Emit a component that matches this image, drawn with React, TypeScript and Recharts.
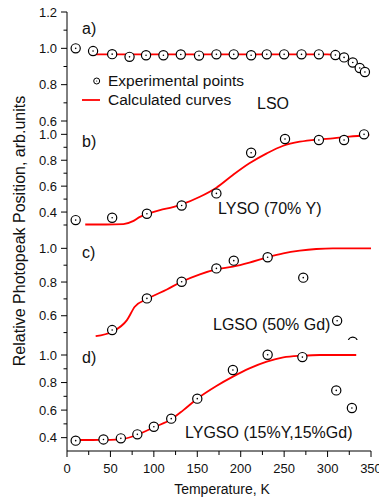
import React from "react";
import { ComposedChart, Line, Scatter, XAxis, YAxis, Legend, Label } from "recharts";

const FONT = '"Liberation Sans", Arial, Helvetica, sans-serif';
const INK = "#111";
const RED = "#ff0000";

// temperature axis, K
const X_TICKS = [0, 25, 50, 75, 100, 125, 150, 175, 200, 225, 250, 275, 300, 325, 350];

// a) LSO
const lsoT = [10, 30, 52, 72, 91, 111, 131, 152, 172, 192, 212, 230, 250, 270, 290, 309, 319, 329, 337, 343];
const lsoV = [1.0, 0.985, 0.968, 0.953, 0.962, 0.962, 0.966, 0.96, 0.967, 0.967, 0.962, 0.967, 0.967, 0.967, 0.967, 0.963, 0.95, 0.922, 0.892, 0.87];
const lsoFitT = [27, 100, 200, 300, 309, 319, 329, 337, 343];
const lsoFitV = [0.967, 0.967, 0.967, 0.967, 0.963, 0.95, 0.922, 0.892, 0.87];

// b) LYSO (70% Y)
const lysoT = [10, 52, 92, 132, 172, 212, 251, 290, 319, 342];
const lysoV = [0.338, 0.356, 0.387, 0.451, 0.544, 0.858, 0.964, 0.956, 0.956, 1.0];
const lysoFitT = [21, 45, 65, 76, 84, 92, 107, 122, 132, 153, 172, 191, 210, 230, 249, 268, 290, 306, 325, 348];
const lysoFitV = [0.304, 0.304, 0.307, 0.33, 0.363, 0.384, 0.415, 0.438, 0.459, 0.518, 0.588, 0.686, 0.776, 0.853, 0.912, 0.943, 0.961, 0.969, 0.982, 0.995];

// c) LGSO (50% Gd)
const lgsoT = [52, 92, 132, 172, 192, 231, 272, 311, 329];
const lgsoV = [0.515, 0.703, 0.802, 0.881, 0.927, 0.947, 0.826, 0.57, 0.446];
const lgsoFitT = [33, 52, 69, 78, 92, 115, 132, 153, 172, 191, 210, 231, 249, 268, 287, 306, 350];
const lgsoFitV = [0.479, 0.505, 0.574, 0.653, 0.699, 0.756, 0.802, 0.846, 0.875, 0.891, 0.915, 0.947, 0.97, 0.986, 0.996, 1.0, 1.0];

// d) LYGSO (15%Y,15%Gd)
const lygsoT = [10, 42, 62, 81, 100, 120, 150, 191, 231, 271, 310, 328];
const lygsoV = [0.378, 0.387, 0.395, 0.424, 0.479, 0.538, 0.683, 0.891, 1.002, 0.985, 0.743, 0.615];
const lygsoFitT = [10, 30, 50, 62, 80, 100, 120, 134, 150, 172, 191, 210, 230, 249, 271, 291, 333];
const lygsoFitV = [0.383, 0.383, 0.384, 0.387, 0.419, 0.475, 0.533, 0.6, 0.683, 0.775, 0.843, 0.903, 0.952, 0.983, 0.995, 1.0, 1.0];

const Y_TICKS_A = [0.6, 0.7, 0.8, 0.9, 1.0, 1.1, 1.2];
const Y_TICKS_B = [0.3, 0.4, 0.5, 0.6, 0.7, 0.8, 0.9, 1.0];
const Y_TICKS_C = [0.5, 0.6, 0.7, 0.8, 0.9, 1.0];
const Y_TICKS_D = [0.4, 0.5, 0.6, 0.7, 0.8, 0.9, 1.0];

const zip = (t: number[], v: number[]) => t.map((x, i) => ({ t: x, v: v[i] }));

const majorY = (v: number) => Math.round(v * 10) % 2 === 0;
const majorX = (v: number) => v % 50 === 0;

function LeftTick(props: any) {
  const { x, y, payload } = props;
  const v = payload.value as number;
  const big = majorY(v);
  return (
    <g>
      <line x1={x - (big ? 6 : 3.5)} x2={x} y1={y} y2={y} stroke="#000" />
      {big && (
        <text x={x - 10} y={y + 4.6} textAnchor="end" fontSize={13} fontFamily={FONT} fill={INK}>
          {v.toFixed(1)}
        </text>
      )}
    </g>
  );
}

function RightTick(props: any) {
  const { x, y, payload } = props;
  const len = majorY(payload.value) ? 5 : 3;
  return <line x1={x - len} x2={x} y1={y} y2={y} stroke="#000" />;
}

function TopTick(props: any) {
  const { x, y, payload } = props;
  const len = majorX(payload.value) ? 5 : 3.5;
  return <line x1={x} x2={x} y1={y} y2={y + len} stroke="#000" />;
}

function BottomTick(props: any) {
  const { x, y, payload } = props;
  const v = payload.value as number;
  const big = majorX(v);
  return (
    <g>
      <line x1={x} x2={x} y1={y} y2={y + (big ? 6 : 4)} stroke="#000" />
      {big && (
        <text x={x} y={y + 22} textAnchor="middle" fontSize={13} fontFamily={FONT} fill={INK}>
          {v}
        </text>
      )}
    </g>
  );
}

function OpenCircle(props: any) {
  const { cx, cy } = props;
  if (cx == null || cy == null) return null;
  return (
    <g>
      <circle cx={cx} cy={cy} r={4.6} fill="#fff" stroke="#000" strokeWidth={1.2} />
      <circle cx={cx} cy={cy} r={0.8} fill="#000" />
    </g>
  );
}

function LegendBox(props: any) {
  const items = [...(props.payload || [])].sort((a: any, b: any) =>
    a.type === "line" ? 1 : b.type === "line" ? -1 : 0
  );
  return (
    <svg width={200} height={40} style={{ display: "block" }}>
      {items.map((it: any, i: number) => {
        const cy = 11 + i * 19;
        return (
          <g key={it.value}>
            {it.type === "line" ? (
              <line x1={4} x2={22} y1={cy} y2={cy} stroke={RED} strokeWidth={1.8} />
            ) : (
              <g>
                <circle cx={18.7} cy={cy} r={3} fill="#fff" stroke="#000" strokeWidth={1} />
                <circle cx={18.7} cy={cy} r={0.6} fill="#000" />
              </g>
            )}
            <text x={30} y={cy + 5} fontSize={15.5} fontFamily={FONT} fill={INK}>
              {it.value}
            </text>
          </g>
        );
      })}
    </svg>
  );
}

interface PanelProps {
  plotTop: number;
  plotH: number;
  domain: [number, number];
  yTicks: number[];
  pts: { t: number; v: number }[];
  fit: { t: number; v: number }[];
  last?: boolean;
  withLegend?: boolean;
}

function Panel({ plotTop, plotH, domain, yTicks, pts, fit, last, withLegend }: PanelProps) {
  const padTop = 12;
  const axisH = last ? 46 : 0;
  const padBottom = last ? 0 : 12;
  const height = padTop + plotH + axisH + padBottom;
  return (
    <div style={{ position: "absolute", left: 0, top: plotTop - padTop, width: 379, height }}>
      <ComposedChart width={379} height={height} margin={{ top: padTop, right: 8, bottom: padBottom, left: 0 }}>
        <XAxis
          dataKey="t"
          type="number"
          domain={[0, 350]}
          ticks={X_TICKS}
          interval={0}
          allowDataOverflow
          height={axisH}
          tickSize={0}
          tickMargin={0}
          tickLine={false}
          axisLine={{ stroke: "#000" }}
          tick={last ? (p: any) => <BottomTick {...p} /> : false}
        >
          {last && (
            <Label
              value="Temperature, K"
              position="insideBottom"
              offset={3}
              dx={3}
              style={{ fontSize: 14, fontFamily: FONT, fill: INK }}
            />
          )}
        </XAxis>
        <XAxis
          xAxisId="top"
          orientation="top"
          type="number"
          domain={[0, 350]}
          ticks={X_TICKS}
          interval={0}
          allowDataOverflow
          height={0}
          tickSize={0}
          tickMargin={0}
          tickLine={false}
          axisLine={{ stroke: "#000" }}
          tick={(p: any) => <TopTick {...p} />}
        />
        <YAxis
          dataKey="v"
          type="number"
          domain={domain}
          ticks={yTicks}
          interval={0}
          allowDataOverflow
          width={67}
          tickSize={0}
          tickMargin={0}
          tickLine={false}
          axisLine={{ stroke: "#000" }}
          tick={(p: any) => <LeftTick {...p} />}
        />
        <YAxis
          yAxisId="right"
          orientation="right"
          type="number"
          domain={domain}
          ticks={yTicks}
          interval={0}
          allowDataOverflow
          width={0}
          tickSize={0}
          tickMargin={0}
          tickLine={false}
          axisLine={{ stroke: "#000" }}
          tick={(p: any) => <RightTick {...p} />}
        />
        {withLegend && (
          <Legend
            layout="vertical"
            align="center"
            verticalAlign="middle"
            content={(p: any) => <LegendBox {...p} />}
            wrapperStyle={{ left: 78, top: 70, width: 200, height: 40 }}
          />
        )}
        <Line
          data={fit}
          dataKey="v"
          name="Calculated curves"
          type="monotone"
          stroke={RED}
          strokeWidth={1.8}
          dot={false}
          activeDot={false}
          legendType="line"
          isAnimationActive={false}
        />
        <Scatter
          data={pts}
          dataKey="v"
          name="Experimental points"
          shape={(p: any) => <OpenCircle {...p} />}
          legendType="circle"
          isAnimationActive={false}
        />
      </ComposedChart>
    </div>
  );
}

const txt = { fontSize: 16, fontFamily: FONT, fill: INK } as const;

export default function App() {
  return (
    <div
      style={{
        position: "absolute",
        left: 0,
        top: 0,
        width: 379,
        height: 497,
        background: "#fff",
        overflow: "hidden",
      }}
    >
      <Panel plotTop={12} plotH={109} domain={[0.6, 1.2]} yTicks={Y_TICKS_A} pts={zip(lsoT, lsoV)} fit={zip(lsoFitT, lsoFitV)} withLegend />
      <Panel plotTop={121} plotH={111} domain={[0.246, 1.103]} yTicks={Y_TICKS_B} pts={zip(lysoT, lysoV)} fit={zip(lysoFitT, lysoFitV)} />
      <Panel plotTop={232} plotH={108} domain={[0.456, 1.097]} yTicks={Y_TICKS_C} pts={zip(lgsoT, lgsoV)} fit={zip(lgsoFitT, lgsoFitV)} />
      <Panel plotTop={340} plotH={111} domain={[0.303, 1.109]} yTicks={Y_TICKS_D} pts={zip(lygsoT, lygsoV)} fit={zip(lygsoFitT, lygsoFitV)} last />
      <svg
        width={379}
        height={497}
        style={{ position: "absolute", left: 0, top: 0, pointerEvents: "none" }}
      >
        <text transform="translate(25,231) rotate(-90)" textAnchor="middle" {...txt}>
          Relative Photopeak Position, arb.units
        </text>
        <text x={82} y={34} {...txt}>a)</text>
        <text x={82} y={147} {...txt}>b)</text>
        <text x={82} y={258} {...txt}>c)</text>
        <text x={82} y={363} {...txt}>d)</text>
        <text x={257} y={109} {...txt}>LSO</text>
        <text x={218} y={213.5} {...txt}>LYSO (70% Y)</text>
        <text x={213} y={329.5} {...txt}>LGSO (50% Gd)</text>
        <text x={185} y={437.5} {...txt}>LYGSO (15%Y,15%Gd)</text>
      </svg>
    </div>
  );
}
